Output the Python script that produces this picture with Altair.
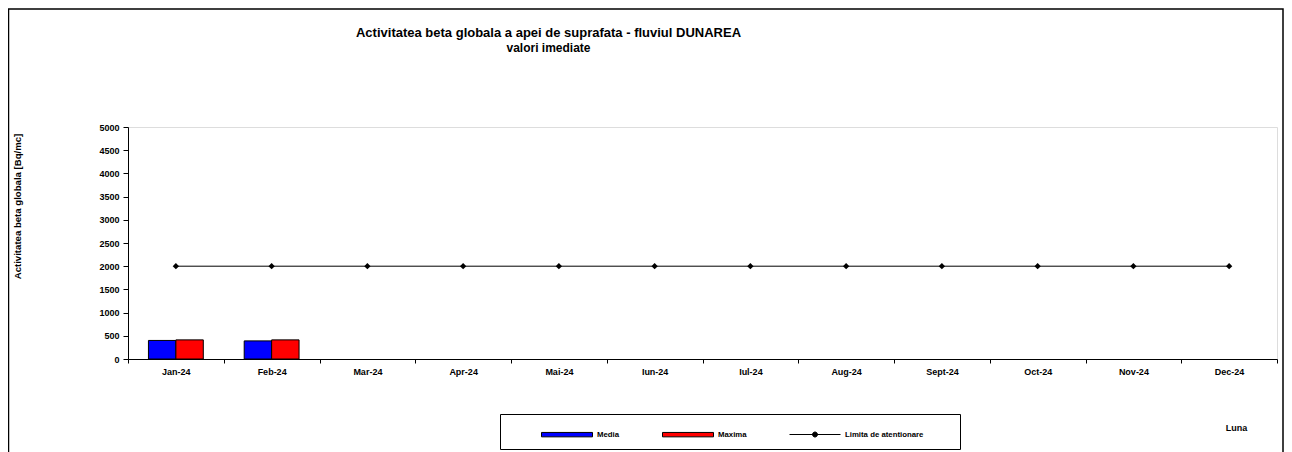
import altair as alt
import pandas as pd

months = ["Jan-24", "Feb-24", "Mar-24", "Apr-24", "Mai-24", "Iun-24",
          "Iul-24", "Aug-24", "Sept-24", "Oct-24", "Nov-24", "Dec-24"]
measured_months = ["Jan-24", "Feb-24"]
media_values = [400, 390]
maxima_values = [412, 412]
limita_values = [2000] * 12
series_names = ["Media", "Maxima", "Limita de atentionare"]
series_colors = ["#0000FF", "#FF0000", "#000000"]
series_outline = ["#000000", "#000000", "#000000"]
y_tick_expr = "sequence(0, 5001, 500)"

FONT = "Liberation Sans"
W, H = 1149, 232

bars_df = pd.DataFrame({
    "Luna": measured_months * 2,
    "Serie": ["Media"] * len(measured_months) + ["Maxima"] * len(measured_months),
    "Valoare": media_values + maxima_values,
})
limit_df = pd.DataFrame({"Luna": months, "Valoare": limita_values})
legend_df = pd.DataFrame({"Serie": series_names})
frame_df = pd.DataFrame({"k": [0]})

legend_shapes = [
    "M-1,-0.22L4.1,-0.22L4.1,0.22L-1,0.22Z",
    "M-1,-0.22L4.1,-0.22L4.1,0.22L-1,0.22Z",
    "M-1,0L4.1,0M1.3,0A0.25,0.25,0,1,1,1.8,0A0.25,0.25,0,1,1,1.3,0ZM14.8,0",
]

x_scale = alt.Scale(domain=months, paddingInner=0, paddingOuter=0)
y_scale = alt.Scale(domain=[0, 5000], nice=False, zero=True)
fill_scale = alt.Scale(domain=series_names, range=series_colors)
stroke_scale = alt.Scale(domain=series_names, range=series_outline)
shape_scale = alt.Scale(domain=series_names, range=legend_shapes)

x_axis = alt.Axis(
    title="Luna", tickBand="extent", labelAngle=0, tickSize=4, labelPadding=4,
    domainColor="#000000", tickColor="#000000", labelFont=FONT, labelFontSize=9,
    labelFontWeight="bold", labelColor="#000000", titleFont=FONT, titleFontSize=9,
    titleFontWeight="bold", titleColor="#000000", titleX=1108, titleY=68,
    titleAlign="center", titleBaseline="middle", grid=False, labelOverlap=False,
)
y_axis = alt.Axis(
    title="Activitatea beta globala [Bq/mc]", values=alt.ExprRef(y_tick_expr), format="d",
    tickSize=5, labelPadding=4, labelOverlap=False,
    domainColor="#000000", tickColor="#000000", labelFont=FONT, labelFontSize=9,
    labelFontWeight="bold", labelColor="#000000", titleFont=FONT, titleFontSize=9.6,
    titleFontWeight="bold", titleColor="#000000", titleX=-111, titleY=79,
    titleAngle=270, titleAlign="center", titleBaseline="middle", grid=False,
)

legend = alt.Legend(
    title=" ", titleOrient="left", titlePadding=31, titleFontSize=7,
    orient="none", legendX=372, legendY=287, direction="horizontal",
    strokeColor="#000000", padding=10, columnPadding=40, symbolSize=400,
    labelOffset=35, labelFont=FONT, labelFontSize=7.8, labelFontWeight="bold",
    labelColor="#000000", symbolStrokeWidth=1, symbolOpacity=1,
)

frame = alt.Chart(frame_df).mark_rect(
    filled=False, stroke="#000000", strokeWidth=1.5
).encode(
    x=alt.value(-119.5), x2=alt.value(W + 6), y=alt.value(-118), y2=alt.value(H + 120)
)

bars = alt.Chart(bars_df).mark_bar(stroke="#000000", strokeWidth=1, opacity=1).encode(
    x=alt.X("Luna:N", scale=x_scale, axis=x_axis, sort=months),
    xOffset=alt.XOffset("Serie:N", scale=alt.Scale(domain=["Media", "Maxima"],
                                                    paddingInner=0, paddingOuter=0.745)),
    y=alt.Y("Valoare:Q", scale=y_scale, axis=y_axis),
    fill=alt.Fill("Serie:N", scale=fill_scale, legend=legend),
)

line = alt.Chart(limit_df).mark_line(color="#000000", strokeWidth=1).encode(
    x=alt.X("Luna:N", scale=x_scale, sort=months, axis=x_axis),
    y=alt.Y("Valoare:Q", scale=y_scale, axis=y_axis),
)

points = alt.Chart(limit_df).mark_point(
    shape="diamond", filled=True, color="#000000", size=40, opacity=1
).encode(
    x=alt.X("Luna:N", scale=x_scale, sort=months, axis=x_axis),
    y=alt.Y("Valoare:Q", scale=y_scale, axis=y_axis),
)

legend_carrier = alt.Chart(legend_df).mark_point(filled=True, opacity=0).encode(
    fill=alt.Fill("Serie:N", scale=fill_scale, legend=legend),
    stroke=alt.Stroke("Serie:N", scale=stroke_scale, legend=legend),
    shape=alt.Shape("Serie:N", scale=shape_scale, legend=legend),
)

chart = alt.layer(frame, bars, line, points, legend_carrier).properties(
    width=W, height=H,
    autosize=alt.AutoSizeParams(type="none"),
    padding={"left": 120, "top": 119, "right": 7, "bottom": 93},
    title=alt.Title(
        text="Activitatea beta globala a apei de suprafata - fluviul DUNAREA",
        subtitle="valori imediate", anchor="middle", frame="group", dx=-154, offset=-46,
        font=FONT, fontSize=13, fontWeight="bold", color="#000000",
        subtitleFont=FONT, subtitleFontSize=12, subtitleFontWeight="bold",
        subtitleColor="#000000", subtitlePadding=3,
    ),
).configure_view(
    stroke="#808080", strokeWidth=1
).configure_axisY(
    labelOverlap=False
).configure(background="#ffffff")

chart.save("out.html", embed_options={"renderer": "svg", "actions": False})
